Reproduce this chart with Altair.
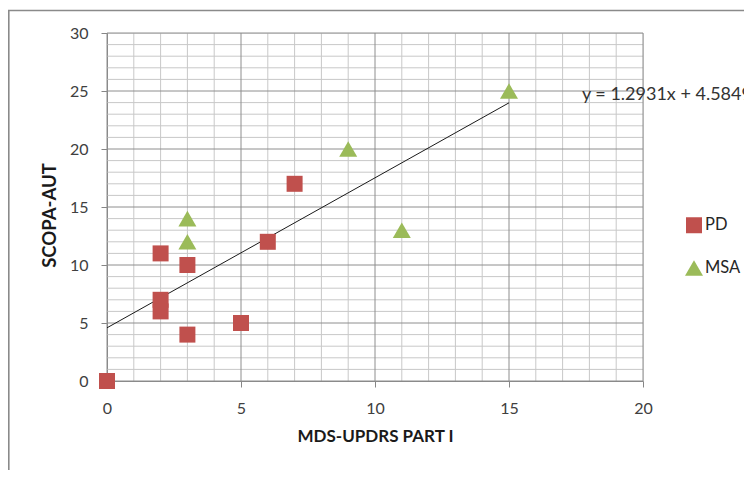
import altair as alt
import pandas as pd

# ---- data ----
pd_x = [0, 2, 2, 2, 3, 3, 5, 6, 7]
pd_y = [0, 11, 7, 6, 10, 4, 5, 12, 17]
msa_x = [3, 3, 9, 11, 15]
msa_y = [14, 12, 20, 13, 25]
series_names = ["PD", "MSA"]
series_colors = ["#C0504D", "#9BBB59"]
series_shapes = ["square", "triangle-up"]
x_major = [0, 5, 10, 15, 20]
y_major = [0, 5, 10, 15, 20, 25, 30]
x_minor = [1, 2, 3, 4, 6, 7, 8, 9, 11, 12, 13, 14, 16, 17, 18, 19]
y_minor = [1, 2, 3, 4, 6, 7, 8, 9, 11, 12, 13, 14, 16, 17, 18, 19,
           21, 22, 23, 24, 26, 27, 28, 29]
trend_extent = [0, 15]
eq_text = ["y = 1.2931x + 4.5849"]
eq_x = [17.72]
eq_y = [24.2]
x_title = "MDS-UPDRS PART I"
y_title = "SCOPA-AUT"

FONT = "Lato"
W, H = 536, 348

points = pd.DataFrame({
    "x": pd_x + msa_x,
    "y": pd_y + msa_y,
    "series": ["PD"] * len(pd_x) + ["MSA"] * len(msa_x),
})

xs = alt.Scale(domain=[0, 20], nice=False, zero=False)
ys = alt.Scale(domain=[0, 30], nice=False, zero=False)

x_axis = alt.Axis(values=x_major, grid=False, tickSize=6,
                  labelPadding=13, titlePadding=12, labelFlush=False,
                  domainColor="#868686", tickColor="#868686",
                  labelFontSize=16, labelColor="#404040",
                  titleFontSize=17, titleFontWeight="bold",
                  titleColor="#1a1a1a", labelFont=FONT, titleFont=FONT)
y_axis = alt.Axis(values=y_major, grid=False, tickSize=6,
                  labelPadding=13, titlePadding=10, labelFlush=False,
                  domainColor="#868686", tickColor="#868686",
                  labelFontSize=16, labelColor="#404040",
                  titleFontSize=18.5, titleFontWeight="bold",
                  titleColor="#1a1a1a", titleY=182,
                  labelFont=FONT, titleFont=FONT)


def xe(field):
    return alt.X(f"{field}:Q", scale=xs, title=x_title, axis=x_axis)


def ye(field):
    return alt.Y(f"{field}:Q", scale=ys, title=y_title, axis=y_axis)


border = alt.Chart(pd.DataFrame({"a": [0]})).mark_rect(
    fill="transparent", stroke="#8a8a8a", strokeWidth=1.6
).encode(
    x=alt.value(-98.2), x2=alt.value(720),
    y=alt.value(-22.5), y2=alt.value(520),
)

minor_v = alt.Chart(pd.DataFrame({"v": x_minor})).mark_rule(
    color="#c8c8c8", strokeWidth=1
).encode(x=xe("v"))
minor_h = alt.Chart(pd.DataFrame({"v": y_minor})).mark_rule(
    color="#c8c8c8", strokeWidth=1
).encode(y=ye("v"))
major_v = alt.Chart(pd.DataFrame({"v": x_major})).mark_rule(
    color="#8e8e8e", strokeWidth=1
).encode(x=xe("v"))
major_h = alt.Chart(pd.DataFrame({"v": y_major})).mark_rule(
    color="#8e8e8e", strokeWidth=1
).encode(y=ye("v"))

trend = alt.Chart(points).transform_regression(
    "x", "y", extent=trend_extent
).mark_line(color="#1a1a1a", strokeWidth=1).encode(
    x=xe("x"), y=ye("y"),
)

pts = alt.Chart(points).mark_point(filled=True, opacity=1).encode(
    x=xe("x"),
    y=ye("y"),
    color=alt.Color("series:N",
                    scale=alt.Scale(domain=series_names, range=series_colors),
                    legend=alt.Legend(orient="none", legendX=578, legendY=184,
                                      title=None, labelFontSize=16.5,
                                      labelFont=FONT, labelColor="#262626",
                                      symbolSize=170, rowPadding=25,
                                      labelOffset=2, padding=0,
                                      symbolStrokeWidth=0)),
    shape=alt.Shape("series:N",
                    scale=alt.Scale(domain=series_names, range=series_shapes)),
    size=alt.Size("series:N",
                  scale=alt.Scale(domain=series_names, range=[256, 324]),
                  legend=None),
)

eq = alt.Chart(pd.DataFrame({"t": eq_text, "x": eq_x, "y": eq_y})).mark_text(
    align="left", baseline="alphabetic", fontSize=18, font=FONT,
    color="#333333"
).encode(
    x=xe("x"),
    y=ye("y"),
    text="t:N",
)

chart = alt.layer(
    border, minor_v, minor_h, major_v, major_h, trend, pts, eq
).properties(
    width=W, height=H,
    autosize=alt.AutoSizeParams(type="none"),
    padding={"left": 99, "top": 25, "right": 101, "bottom": 89},
).configure_view(stroke=None).configure(font=FONT, background="white")

chart.save("out.html", embed_options={"renderer": "svg", "actions": False})
